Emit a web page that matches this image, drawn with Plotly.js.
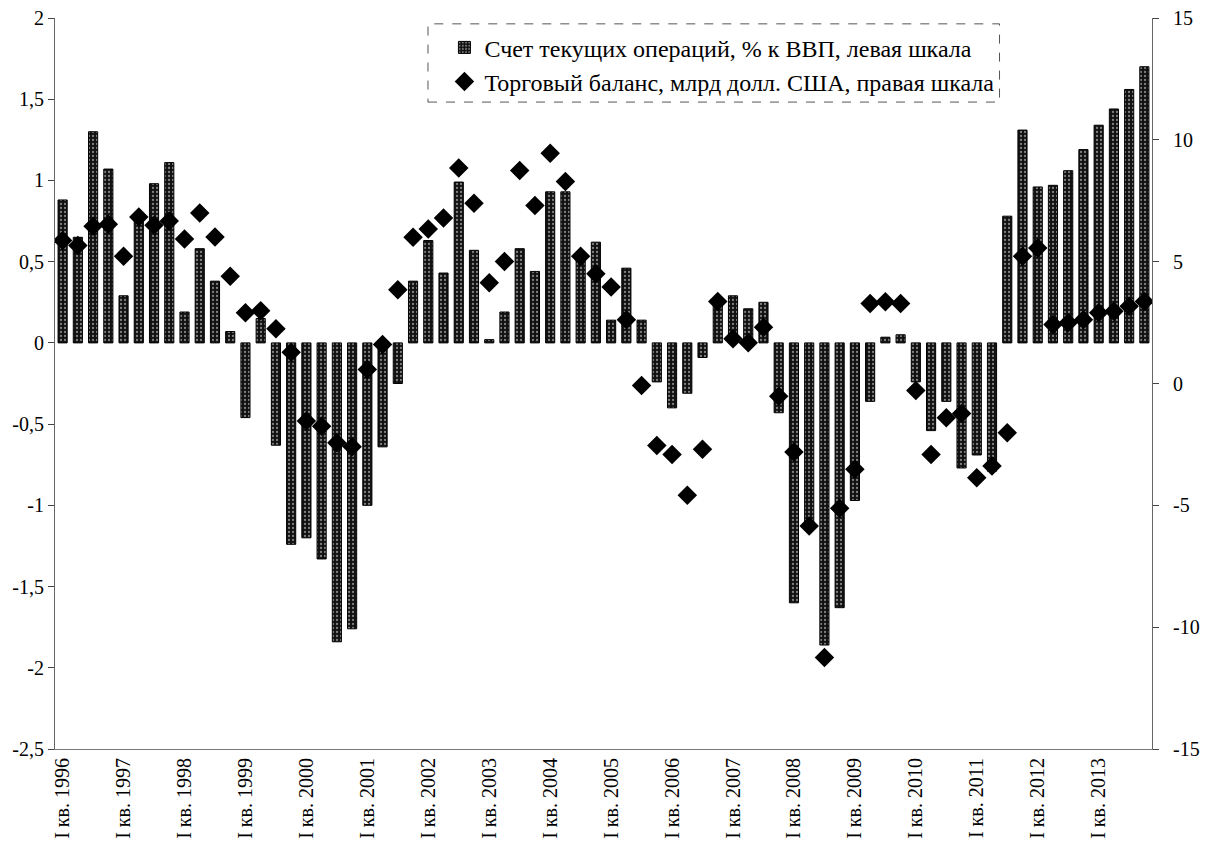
<!DOCTYPE html>
<html>
<head>
<meta charset="utf-8">
<script src="https://cdn.plot.ly/plotly-3.0.1.min.js"></script>
<style>html,body{margin:0;padding:0;background:#fff}#chart{width:1215px;height:854px}</style>
</head>
<body>
<div id="chart"></div>
<script>
// Quarters I 1996 .. IV 2013
const years = [1996,1997,1998,1999,2000,2001,2002,2003,2004,2005,2006,2007,2008,2009,2010,2011,2012,2013];
const romans = ["I","II","III","IV"];
const quarters = [];
years.forEach(y => romans.forEach(r => quarters.push(r + " кв. " + y)));
const yearTickLabels = years.map(y => "I кв. " + y);

// Current account, % of GDP (left axis)
const currentAccount = [
  0.88, 0.65, 1.30, 1.07,  0.29, 0.77, 0.98, 1.11,  0.19, 0.58, 0.38, 0.07,
 -0.46, 0.15,-0.63,-1.24, -1.20,-1.33,-1.84,-1.76, -1.00,-0.64,-0.25, 0.38,
  0.63, 0.43, 0.99, 0.57,  0.02, 0.19, 0.58, 0.44,  0.93, 0.93, 0.53, 0.62,
  0.14, 0.46, 0.14,-0.24, -0.40,-0.31,-0.09, 0.26,  0.29, 0.21, 0.25,-0.43,
 -1.60,-1.14,-1.86,-1.63, -0.97,-0.36, 0.035,0.05, -0.24,-0.54,-0.36,-0.77,
 -0.69,-0.79, 0.78, 1.31,  0.96, 0.97, 1.06, 1.19,  1.34, 1.44, 1.56, 1.70
];

// Trade balance, bn USD (right axis)
const tradeBalance = [
  5.87, 5.66, 6.45, 6.54,  5.22, 6.83, 6.49, 6.67,  5.93, 7.00, 6.01, 4.40,
  2.90, 2.99, 2.25, 1.28, -1.54,-1.75,-2.43,-2.60,  0.57, 1.60, 3.85, 6.00,
  6.34, 6.79, 8.84, 7.40,  4.13, 5.01, 8.74, 7.31,  9.45, 8.29, 5.22, 4.50,
  3.96, 2.62,-0.08,-2.54, -2.91,-4.59,-2.70, 3.37,  1.84, 1.67, 2.31,-0.52,
 -2.81,-5.85,-11.24,-5.12,-3.52, 3.28, 3.35, 3.28, -0.29,-2.91,-1.41,-1.23,
 -3.87,-3.39,-2.02, 5.22,  5.56, 2.42, 2.49, 2.62,  2.90, 2.96, 3.17, 3.37
];

const leftTicks = [2,1.5,1,0.5,0,-0.5,-1,-1.5,-2,-2.5];
const leftTickText = ["2","1,5","1","0,5","0","-0,5","-1","-1,5","-2","-2,5"];
const rightTicks = [15,10,5,0,-5,-10,-15];
const rightTickText = ["15","10","5","0","-5","-10","-15"];

const seriesNames = [
  "Счет текущих операций, % к ВВП, левая шкала",
  "Торговый баланс, млрд долл. США, правая шкала"
];

const serif = "Liberation Serif, DejaVu Serif, serif";

const boundaries = [];
for (let i = 0; i <= quarters.length; i++) boundaries.push(i - 0.5);

const traces = [
  {
    type: "bar",
    x: quarters,
    y: currentAccount,
    name: seriesNames[0],
    yaxis: "y",
    marker: {
      color: "#111",
      line: {color: "#000", width: 1},
      pattern: {shape: ".", fgcolor: "#f0f0f0", bgcolor: "#111", size: 4, solidity: 0.25, fillmode: "overlay"}
    },
    hoverinfo: "x+y"
  },
  {
    type: "scatter",
    mode: "markers",
    x: quarters,
    y: tradeBalance,
    name: seriesNames[1],
    yaxis: "y2",
    marker: {symbol: "diamond", size: 15, color: "#000"},
    hoverinfo: "x+y"
  }
];

const layout = {
  width: 1215,
  height: 854,
  margin: {l: 55, r: 63, t: 18, b: 105},
  paper_bgcolor: "#fff",
  plot_bgcolor: "#fff",
  font: {family: serif, size: 18, color: "#000"},
  bargap: 0.4,
  showlegend: true,
  legend: {
    x: 0.355, y: 0.99, xanchor: "left", yanchor: "top",
    bgcolor: "rgba(255,255,255,0)",
    borderwidth: 0,
    font: {family: serif, size: 24, color: "#000"},
    tracegroupgap: 0,
    itemwidth: 30
  },
  xaxis: {
    type: "category",
    categoryorder: "array",
    categoryarray: quarters,
    range: [-0.5, quarters.length - 0.5],
    tickmode: "array",
    tickvals: yearTickLabels,
    ticktext: yearTickLabels,
    tickangle: -90,
    ticks: "",
    showline: true,
    linecolor: "#777",
    linewidth: 1,
    mirror: false,
    showgrid: false,
    zeroline: false,
    tickfont: {family: serif, size: 20, color: "#000"}
  },
  xaxis2: {
    overlaying: "x",
    anchor: "free",
    position: 2.5 / 4.5,
    range: [-0.5, quarters.length - 0.5],
    tickmode: "array",
    tickvals: boundaries,
    ticks: "outside",
    ticklen: 5,
    tickcolor: "#000",
    showticklabels: false,
    showline: true,
    linecolor: "#000",
    linewidth: 1,
    showgrid: false,
    zeroline: false
  },
  yaxis: {
    range: [-2.5, 2],
    tickmode: "array",
    tickvals: leftTicks,
    ticktext: leftTickText,
    ticks: "outside",
    ticklen: 6,
    tickcolor: "#444",
    showline: true,
    linecolor: "#666",
    linewidth: 1,
    showgrid: false,
    zeroline: false,
    tickfont: {family: serif, size: 20, color: "#000"}
  },
  yaxis2: {
    overlaying: "y",
    side: "right",
    range: [-15, 15],
    tickmode: "array",
    tickvals: rightTicks,
    ticktext: rightTickText,
    ticks: "outside",
    ticklen: 6,
    tickcolor: "#444",
    ticklabelstandoff: 10,
    showline: true,
    linecolor: "#666",
    linewidth: 1,
    showgrid: false,
    zeroline: false,
    tickfont: {family: serif, size: 20, color: "#000"}
  },
  shapes: [
    {
      type: "rect", xref: "paper", yref: "paper",
      x0: 0.340, x1: 0.861, y0: 0.885, y1: 0.992,
      line: {color: "#555", width: 1, dash: "dash"},
      fillcolor: "rgba(0,0,0,0)",
      layer: "above"
    }
  ]
};

Plotly.newPlot("chart", traces, layout, {displayModeBar: false, staticPlot: true});
</script>
</body>
</html>
